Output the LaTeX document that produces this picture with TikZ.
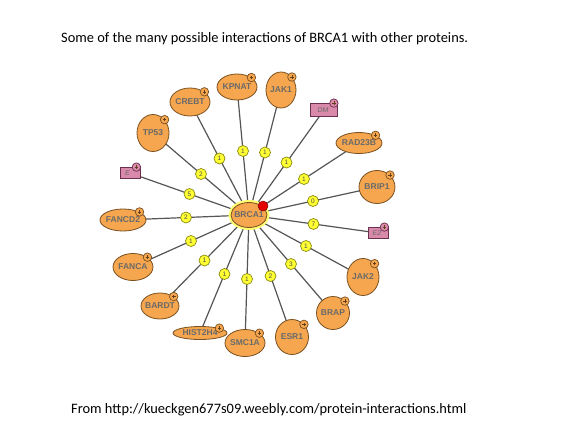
\documentclass[tikz,border=0pt]{standalone}
\usepackage{fontspec}
\setmainfont{Carlito}
\newfontfamily\nodefont{Liberation Sans}
\usetikzlibrary{shapes.geometric,backgrounds}
\definecolor{orfill}{HTML}{F5A64E}
\definecolor{orline}{HTML}{7A5020}
\definecolor{ylfill}{HTML}{FFFF33}
\definecolor{ylline}{HTML}{8A8A10}
\definecolor{pkfill}{HTML}{D98AAA}
\definecolor{pkline}{HTML}{6A3050}
\definecolor{edgec}{HTML}{555555}
\definecolor{txtc}{HTML}{6A6A6A}
\tikzset{
  prot/.style={ellipse, fill=orfill, draw=orline, line width=0.8pt, inner sep=0pt,
    font=\nodefont\fontsize{8.5}{9}\selectfont\bfseries, text=txtc},
  pbox/.style={rectangle, fill=pkfill, draw=pkline, line width=0.8pt, inner sep=0pt,
    font=\nodefont\fontsize{7}{8}\selectfont\itshape, text=txtc},
  plusmark/.style={circle, fill=orfill, draw=orline, line width=0.7pt, minimum size=8.5pt, inner sep=0pt,
    path picture={\draw[orline!80!black, line width=0.6pt]
      ([xshift=-1.8pt]path picture bounding box.center) -- ([xshift=1.8pt]path picture bounding box.center)
      ([yshift=-1.8pt]path picture bounding box.center) -- ([yshift=1.8pt]path picture bounding box.center);}},
  pkmark/.style={plusmark, fill=pkfill, draw=pkline},
  lab/.style={circle, fill=ylfill, draw=ylline, line width=0.7pt, minimum size=11pt, inner sep=0pt,
    font=\nodefont\fontsize{6.5}{6.5}\selectfont, text=black!70},
  edge/.style={draw=edgec, line width=1.2pt},
  ttl/.style={font=\fontsize{14.4}{16}\selectfont, anchor=west, inner sep=0pt}
}
\newcommand{\prot}[6]{%
  \node[prot, minimum width=#4pt, minimum height=#5pt] (#1) at (#2,#3) {\makebox[0pt]{#6}};
  \node[plusmark] (#1p) at (#1.north east) {};}
\newcommand{\pkbox}[7]{%
  \node[pbox, minimum width=#4pt, minimum height=#5pt] (#1) at (#2,#3) {\makebox[0pt]{\hspace*{#7}#6}};
  \node[pkmark] (#1p) at ([xshift=-4pt]#1.north east) {};}
\begin{document}
\begin{tikzpicture}[x=1pt,y=-1pt]
\useasboundingbox (0,0) rectangle (576,432);
\node[ttl] (title) at (61,39) {Some of the many possible interactions of BRCA1 with other proteins.};
\node[ttl] (src) at (71,410) {From http://kueckgen677s09.weebly.com/protein-interactions.html};

\node[prot, minimum width=36pt, minimum height=25pt,
  preaction={draw=ylfill!70!white, line width=5pt}] (brca) at (249,215) {\makebox[0pt]{BRCA1}};
\node[circle, fill=red!90!black, draw=red!50!black, line width=0.5pt, minimum size=10pt, inner sep=0pt] (dot) at (263,206) {};

\prot{kpnat}{237}{87}{40}{26}{KPNAT}
\prot{jak1}{281}{90}{30}{36}{JAK1}
\prot{crebt}{190}{102}{40}{28}{CREBT}
\prot{tp53}{153}{133}{32}{37}{TP53}
\prot{fancd2}{123}{220}{46}{22}{FANCD2}
\prot{fanca}{133}{267}{40}{27}{FANCA}
\prot{bardt}{160}{306}{38}{26}{BARDT}
\prot{hist}{200}{333}{54}{13}{HIST2H4}
\prot{smc}{245}{343}{40}{27}{SMC1A}
\prot{esr}{292}{337}{33}{35}{ESR1}
\prot{brap}{333}{313}{33}{33}{BRAP}
\prot{jak2}{363}{277}{32}{37}{JAK2}
\prot{brip}{377}{187}{36}{33}{BRIP1}
\prot{rad}{359}{143}{46}{21}{RAD23B}
\pkbox{dm}{324}{110}{27}{13}{DM}{-2pt}
\pkbox{etwo}{378}{233}{20}{11}{E2}{-2pt}
\pkbox{eone}{130}{173}{20}{11}{E}{-5pt}

\begin{pgfonlayer}{background}
\path[edge] (brca.center) -- node[lab]{2} (tp53.center);
\path[edge] (brca.center) -- node[lab]{1} (crebt.center);
\path[edge] (brca.center) -- node[lab]{1} (kpnat.center);
\path[edge] (brca.center) -- node[lab]{1} (jak1.center);
\path[edge] (brca.center) -- node[lab]{1} (dm.center);
\path[edge] (brca.center) -- node[lab]{1} (rad.center);
\path[edge] (brca.center) -- node[lab]{0} (brip.center);
\path[edge] (brca.center) -- node[lab]{7} (etwo.center);
\path[edge] (brca.center) -- node[lab]{1} (jak2.center);
\path[edge] (brca.center) -- node[lab]{3} (brap.center);
\path[edge] (brca.center) -- node[lab]{2} (esr.center);
\path[edge] (brca.center) -- node[lab]{1} (smc.center);
\path[edge] (brca.center) -- node[lab]{1} (hist.center);
\path[edge] (brca.center) -- node[lab]{1} (bardt.center);
\path[edge] (brca.center) -- node[lab]{1} (fanca.center);
\path[edge] (brca.center) -- node[lab]{2} (fancd2.center);
\path[edge] (brca.center) -- node[lab]{5} (eone.center);
\end{pgfonlayer}
\end{tikzpicture}
\end{document}
